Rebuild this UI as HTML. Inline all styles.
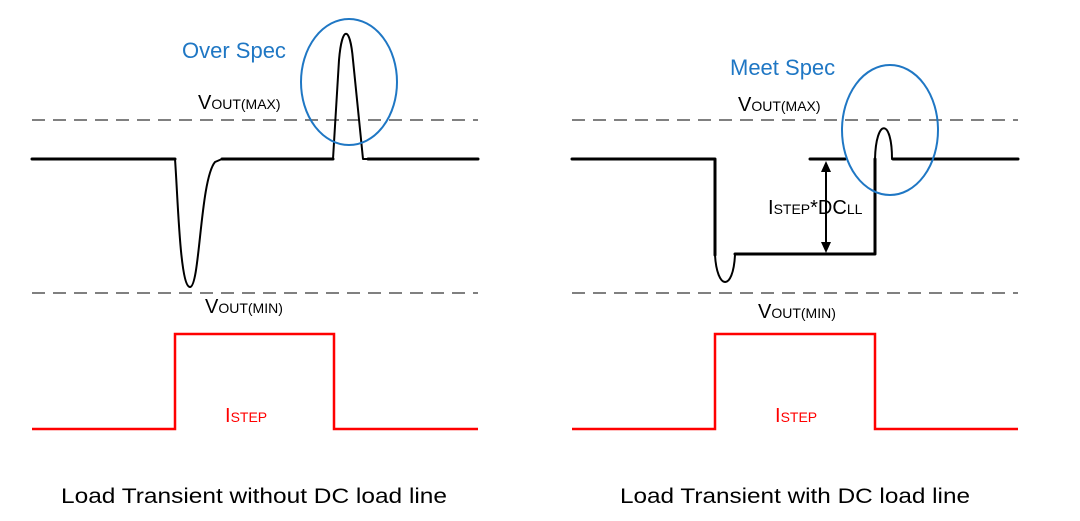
<!DOCTYPE html>
<html><head><style>html,body{margin:0;padding:0;background:#fff}svg{display:block}</style></head>
<body>
<svg width="1080" height="521" viewBox="0 0 1080 521" xmlns="http://www.w3.org/2000/svg" font-family="'Liberation Sans', sans-serif">
<g stroke="#808080" stroke-width="2" stroke-dasharray="13,8">
<line x1="32" y1="120" x2="478" y2="120"/><line x1="32" y1="293" x2="478" y2="293"/>
<line x1="572" y1="120" x2="1018" y2="120"/><line x1="572" y1="293" x2="1018" y2="293"/>
</g>
<g fill="none" stroke="#000" stroke-linecap="round" stroke-linejoin="round">
<path d="M32 159 H175" stroke-width="3"/>
<path d="M175 159 C178 200 180 287 190 287 C200 287 200 180 215 162 L222 159" stroke-width="2"/>
<path d="M222 159 H333" stroke-width="3"/>
<path d="M333 159 L339 60 C342 25 350 25 353 60 L363 159 H368" stroke-width="2"/>
<path d="M368 159 H478" stroke-width="3"/>
<path d="M572 159 H715 V255" stroke-width="3"/>
<path d="M715 255 C717 290 733 292 735 255" stroke-width="2"/>
<path d="M735 254 H875 V159" stroke-width="3"/>
<path d="M875 159 C876 118 892 118 892 159" stroke-width="2"/>
<path d="M893 159 H1018" stroke-width="3"/>
<path d="M810 159 H845" stroke-width="3"/>
<line x1="826" y1="170" x2="826" y2="243" stroke-width="2"/>
</g>
<path d="M826 161 L821 172 L831 172 Z M826 253 L821 242 L831 242 Z" fill="#000"/>
<g fill="none" stroke="#1f77c4" stroke-width="2">
<ellipse cx="349" cy="82" rx="48" ry="63"/>
<ellipse cx="890" cy="130" rx="48" ry="65"/>
</g>
<g fill="none" stroke="#f00" stroke-width="2.5">
<path d="M32 429 H175 V334 H334 V429 H478"/>
<path d="M572 429 H715 V334 H875 V429 H1018"/>
</g>
<g fill="#1f77c4" font-size="22">
<text x="182" y="58">Over Spec</text>
<text x="730" y="75">Meet Spec</text>
</g>
<g fill="#000" font-size="14">
<text x="198" y="109"><tspan font-size="20">V</tspan>OUT(MAX)</text>
<text x="205" y="313"><tspan font-size="20">V</tspan>OUT(MIN)</text>
<text x="738" y="111"><tspan font-size="20">V</tspan>OUT(MAX)</text>
<text x="758" y="318"><tspan font-size="20">V</tspan>OUT(MIN)</text>
<text x="768" y="214"><tspan font-size="20">I</tspan>STEP<tspan font-size="20">*DC</tspan>LL</text>
</g>
<g fill="#f00" font-size="14">
<text x="225" y="422"><tspan font-size="20">I</tspan>STEP</text>
<text x="775" y="422"><tspan font-size="20">I</tspan>STEP</text>
</g>
<g fill="#000" font-size="21">
<text x="61" y="503" textLength="386" lengthAdjust="spacingAndGlyphs">Load Transient without DC load line</text>
<text x="620" y="503" textLength="350" lengthAdjust="spacingAndGlyphs">Load Transient with DC load line</text>
</g>
</svg>
</body></html>
